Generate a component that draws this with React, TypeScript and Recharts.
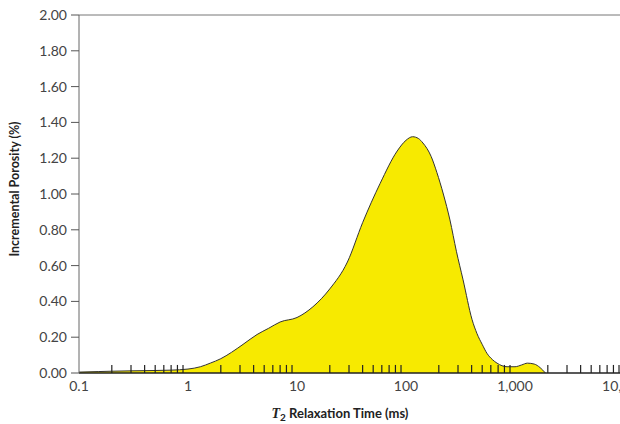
import React from 'react';
import {
  AreaChart,
  Area,
  XAxis,
  YAxis,
  ReferenceLine,
  Label,
} from 'recharts';

// T2 relaxation time (ms) and incremental porosity (%)
const t2Times = [
  0.1, 0.15, 0.2, 0.3, 0.5, 0.7, 1, 1.3, 1.6, 2, 2.5, 3.2, 4.3, 5.5, 7, 10,
  14, 20, 29, 40, 58, 83, 100, 115, 130, 143, 170, 192, 220, 253, 290, 334,
  403, 448, 500, 553, 620, 684, 845, 1000, 1150, 1300, 1500, 1700, 1900,
];
const porosity = [
  0.005, 0.008, 0.01, 0.012, 0.014, 0.016, 0.022, 0.035, 0.055, 0.08, 0.115,
  0.16, 0.215, 0.25, 0.285, 0.31, 0.37, 0.47, 0.62, 0.84, 1.06, 1.24, 1.3,
  1.32, 1.31, 1.285, 1.21, 1.12, 1.0, 0.855, 0.68, 0.52, 0.3, 0.22, 0.16,
  0.11, 0.075, 0.055, 0.035, 0.035, 0.045, 0.055, 0.05, 0.03, 0.0,
];

const xTicks = [0.1, 1, 10, 100, 1000, 10000];
const xTickLabels = ['0.1', '1', '10', '100', '1,000', '10,000'];
const minorTicks = [
  0.2, 0.3, 0.4, 0.5, 0.6, 0.7, 0.8, 0.9,
  2, 3, 4, 5, 6, 7, 8, 9,
  20, 30, 40, 50, 60, 70, 80, 90,
  200, 300, 400, 500, 600, 700, 800, 900,
  2000, 3000, 4000, 5000, 6000, 7000, 8000, 9000,
];
const yTicks = [0, 0.2, 0.4, 0.6, 0.8, 1.0, 1.2, 1.4, 1.6, 1.8, 2.0];

const data = t2Times.map((t, i) => ({ t2: t, p: porosity[i] }));

const tickFont = { fontFamily: 'Lato, sans-serif', fontSize: 14, fill: '#444' };

const XTitle = () => (
  <text
    x={340}
    y={418}
    textAnchor="middle"
    fontFamily="Lato, sans-serif"
    fontWeight="bold"
    fontSize={13}
    fill="#222"
  >
    <tspan fontStyle="italic" fontFamily="'Liberation Serif', serif" fontSize={14}>T</tspan>
    <tspan fontSize={10} dy={3}>2</tspan>
    <tspan dy={-3}> Relaxation Time (ms)</tspan>
  </text>
);

const YTitle = () => (
  <text
    x={19}
    y={189}
    transform="rotate(-90 19 189)"
    textAnchor="middle"
    fontFamily="Lato, sans-serif"
    fontWeight="bold"
    fontSize={12.5}
    fill="#222"
  >
    Incremental Porosity (%)
  </text>
);

export default function App() {
  return (
    <div
      style={{
        position: 'absolute',
        left: 0,
        top: 0,
        width: 620,
        height: 424,
        overflow: 'hidden',
        background: '#fff',
      }}
    >
      <AreaChart
        width={640}
        height={424}
        data={data}
        margin={{ top: 15, right: 16, left: 0, bottom: 0 }}
      >
        <XAxis
          dataKey="t2"
          type="number"
          scale="log"
          domain={[0.1, 10000]}
          ticks={xTicks}
          tickFormatter={(v: number) => xTickLabels[xTicks.indexOf(v)] ?? String(v)}
          tickLine={false}
          tick={tickFont}
          axisLine={{ stroke: '#222', strokeWidth: 1.5 }}
          height={51}
          allowDataOverflow
          interval={0}
        >
          <Label content={<XTitle />} />
        </XAxis>
        <YAxis
          type="number"
          domain={[0, 2]}
          ticks={yTicks}
          tickFormatter={(v: number) => v.toFixed(2)}
          tick={tickFont}
          tickSize={8}
          tickMargin={4}
          tickLine={{ stroke: '#555' }}
          axisLine={{ stroke: '#666' }}
          width={79}
          interval={0}
        >
          <Label content={<YTitle />} />
        </YAxis>
        <ReferenceLine y={2} stroke="#777" ifOverflow="extendDomain" />
        <Area
          type="monotone"
          dataKey="p"
          stroke="#333"
          strokeWidth={1}
          fill="#F7EA00"
          fillOpacity={1}
          isAnimationActive={false}
        />
        {minorTicks.map((m) => (
          <ReferenceLine
            key={m}
            segment={[
              { x: m, y: 0 },
              { x: m, y: 0.045 },
            ]}
            stroke="#222"
            strokeWidth={1.2}
          />
        ))}
      </AreaChart>
    </div>
  );
}
